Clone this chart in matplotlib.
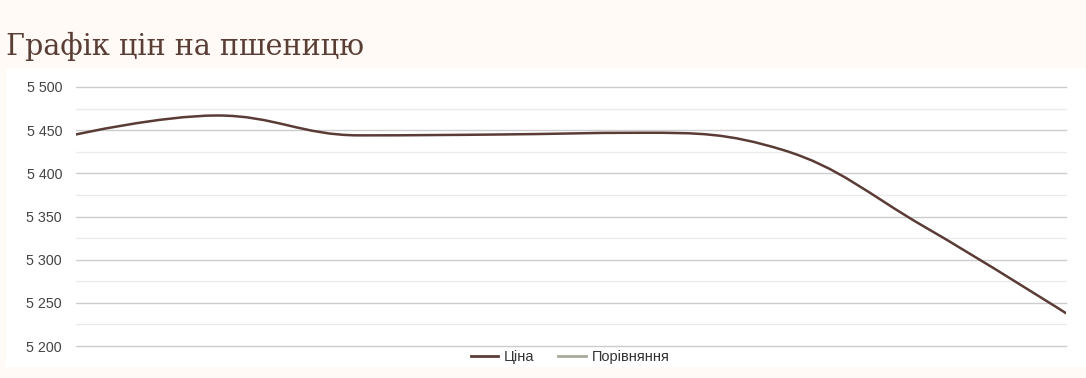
import matplotlib
matplotlib.use('Agg')
from matplotlib import pyplot as plt
from matplotlib.path import Path
from matplotlib.patches import PathPatch, Rectangle
from matplotlib.lines import Line2D
import matplotlib.ticker as mticker
import numpy as np

# data
title = 'Графік цін на пшеницю'
series_name = 'Ціна'
compare_name = 'Порівняння'
prices = [5445, 5467, 5444, 5445, 5447, 5427, 5338, 5238]
y_ticks = [5200, 5250, 5300, 5350, 5400, 5450, 5500]

bg = '#fffaf6'
line_color = '#5a3b36'
compare_color = '#a9a99a'


def spline_path(xs, ys, smoothing=1.5):
    # highcharts-like bezier spline through the points
    denom = smoothing + 1
    verts = [(xs[0], ys[0])]
    codes = [Path.MOVETO]
    ctrl = []
    n = len(xs)
    for i in range(n):
        if i == 0 or i == n - 1:
            ctrl.append(((xs[i], ys[i]), (xs[i], ys[i])))
            continue
        lx = (smoothing * xs[i] + xs[i - 1]) / denom
        ly = (smoothing * ys[i] + ys[i - 1]) / denom
        rx = (smoothing * xs[i] + xs[i + 1]) / denom
        ry = (smoothing * ys[i] + ys[i + 1]) / denom
        if rx != lx:
            corr = (ry - ly) * (rx - xs[i]) / (rx - lx) + ys[i] - ry
            ly += corr
            ry += corr
        if ly > ys[i - 1] and ly > ys[i]:
            ly = max(ys[i - 1], ys[i]); ry = 2 * ys[i] - ly
        elif ly < ys[i - 1] and ly < ys[i]:
            ly = min(ys[i - 1], ys[i]); ry = 2 * ys[i] - ly
        if ry > ys[i + 1] and ry > ys[i]:
            ry = max(ys[i + 1], ys[i]); ly = 2 * ys[i] - ry
        elif ry < ys[i + 1] and ry < ys[i]:
            ry = min(ys[i + 1], ys[i]); ly = 2 * ys[i] - ry
        ctrl.append(((lx, ly), (rx, ry)))
    for i in range(1, n):
        verts += [ctrl[i - 1][1], ctrl[i][0], (xs[i], ys[i])]
        codes += [Path.CURVE4] * 3
    return Path(verts, codes)


fig = plt.figure(figsize=(10.86, 3.78), dpi=100)
fig.patch.set_facecolor(bg)
fig.patches.append(Rectangle((6 / 1086, 11 / 378), 1, 299 / 378,
                             transform=fig.transFigure, facecolor='white',
                             edgecolor='none', zorder=-5))

fig.text(6 / 1086, 1 - 55 / 378, title, family=['DejaVu Serif'],
         fontsize=20.6, color='#5a3e36', ha='left', va='baseline')

ax = fig.add_axes([76 / 1086, 1 - 346 / 378, 990 / 1086, 259 / 378])
ax.set_facecolor('none')
ax.set_zorder(2)
x = np.arange(len(prices))
ax.add_patch(PathPatch(spline_path(x, prices), facecolor='none',
                       edgecolor=line_color, lw=1.8, capstyle='round', zorder=3))
ax.set_xlim(0, len(prices) - 1)
ax.set_ylim(5200, 5500)
ax.set_yticks(y_ticks)
ax.yaxis.set_minor_locator(mticker.MultipleLocator(25))
ax.yaxis.set_major_formatter(mticker.FuncFormatter(lambda v, p: '{:,.0f}'.format(v).replace(',', ' ')))
ax.set_xticks([])
ax.grid(axis='y', which='major', color='#cccccc', lw=1)
ax.grid(axis='y', which='minor', color='#ebebeb', lw=1)
for gl in ax.get_ygridlines() + ax.yaxis.get_minorticklines():
    gl.set_clip_on(False)
for t in ax.yaxis.get_major_ticks() + ax.yaxis.get_minor_ticks():
    t.gridline.set_clip_on(False)
ax.tick_params(axis='y', which='both', length=0, pad=10, labelsize=10.3,
               labelcolor='#444444')
for lab in ax.get_yticklabels():
    lab.set_family('Liberation Sans')
for s in ax.spines.values():
    s.set_visible(False)

handles = [Line2D([], [], color=line_color, lw=2),
           Line2D([], [], color=compare_color, lw=2)]
leg = fig.legend(handles, [series_name, compare_name], loc='center',
                 bbox_to_anchor=(570 / 1086, 1 - 357 / 378), ncol=2, frameon=False,
                 prop={'family': 'Liberation Sans', 'size': 10.5}, handlelength=1.9,
                 columnspacing=1.6, handletextpad=0.4, labelcolor='#333333')
leg.set_zorder(3)

fig.savefig('out.png', dpi=100, facecolor=bg)
